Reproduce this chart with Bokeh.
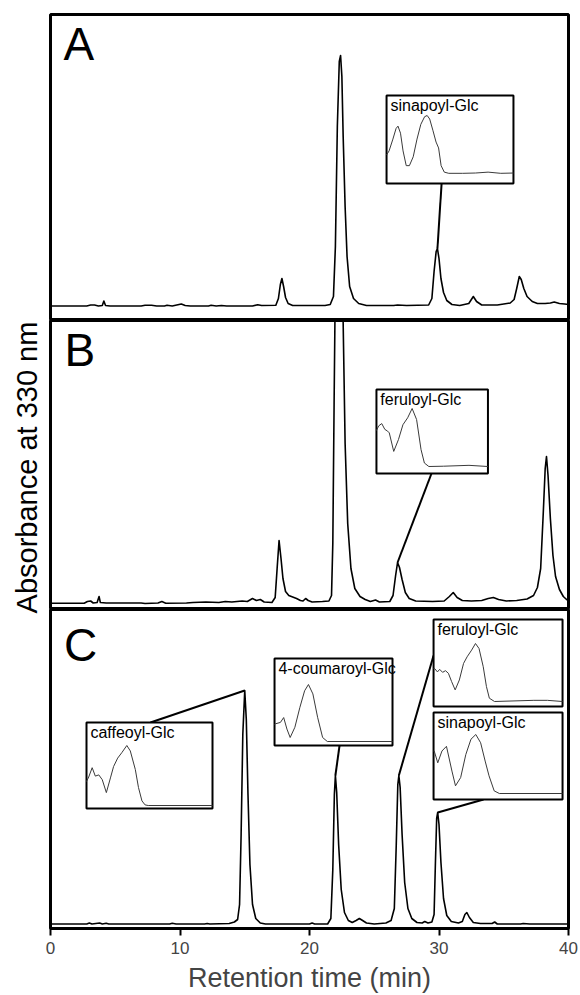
import math
from bokeh.plotting import figure
from bokeh.layouts import column, row
from bokeh.models import Range1d, FixedTicker
from bokeh.core.properties import value
from bokeh.embed import file_html
from bokeh.resources import INLINE

FONT = "Liberation Sans"

# ---------------- chromatogram data (retention time min, absorbance a.u.) -------------
A_time = [0.0, 2.8, 3.1, 3.4, 3.7, 4.0, 4.12, 4.25, 4.6, 7.0, 7.3, 7.8, 8.2, 8.8, 9.0, 9.4,
          10.1, 10.4, 10.8, 12.2, 12.4, 12.8, 13.2, 13.6, 15.6, 16.0, 16.3, 17.4, 17.6, 17.75,
          17.87, 18.0, 18.15, 18.35, 18.7, 21.2, 21.6, 21.85, 22.0, 22.15, 22.3, 22.4, 22.5,
          22.6, 22.75, 22.9, 23.1, 23.4, 23.8, 24.4, 26.5, 26.8, 27.5, 29.2, 29.45, 29.62,
          29.78, 29.88, 30.0, 30.15, 30.35, 30.6, 31.0, 31.6, 32.3, 32.65, 32.9, 33.3, 34.5,
          35.0, 35.5, 35.8, 36.0, 36.2, 36.35, 36.55, 36.8, 37.2, 37.6, 38.2, 38.6, 38.9,
          39.3, 39.7, 40.0]
A_abs = [0.5, 0.5, 1.5, 1.5, 0.5, 1.0, 5.5, 1.0, 0.5, 0.5, 1.2, 1.2, 0.5, 0.5, 1.2, 0.5,
         2.5, 1.0, 0.5, 0.5, 1.2, 0.5, 1.0, 0.5, 0.5, 1.8, 1.0, 1.2, 8, 22,
         28, 20, 9, 3, 1, 1, 2, 10, 60, 180, 245, 251, 230,
         170, 100, 50, 20, 8, 3, 1, 1, 1.5, 1, 1.5, 8, 35,
         55, 58, 48, 28, 14, 6, 2, 1, 3, 10, 5, 1.5, 1.5,
         2.5, 3.5, 7, 18, 30, 27, 18, 10, 5, 3, 3, 3.5, 4.5,
         3, 2.5, 2]

B_time = [0.0, 2.6, 2.85, 3.1, 3.3, 3.6, 3.75, 3.85, 4.3, 7.0, 7.3, 8.3, 8.6, 8.9, 10.5, 11.0,
          12.0, 13.0, 13.5, 14.0, 14.8, 15.2, 15.6, 15.9, 16.2, 16.5, 17.1, 17.35, 17.5, 17.65,
          17.8, 17.95, 18.15, 18.4, 18.7, 19.0, 19.3, 19.5, 19.7, 19.9, 20.2, 21.0, 21.5, 21.7,
          21.8, 21.9, 22.0, 22.25, 22.5, 22.6, 22.75, 22.95, 23.2, 23.5, 23.9, 24.3, 24.7,
          25.1, 25.4, 26.2, 26.45, 26.65, 26.8, 26.95, 27.15, 27.4, 27.7, 28.2, 29.5, 30.4,
          30.8, 31.1, 31.4, 31.8, 32.5, 33.3, 33.8, 34.2, 34.6, 35.2, 36.0, 36.8, 37.3, 37.6,
          37.85, 38.05, 38.2, 38.3, 38.42, 38.6, 38.8, 39.0, 39.3, 39.6, 39.85, 40.0]
B_abs = [0.3, 0.3, 2, 2.5, 0.5, 1, 7, 1, 0.5, 0.5, 0, 0.5, 2, 0.3, 0.5, 1,
         1.5, 1.0, 2, 1.5, 2.5, 2, 5, 3, 4, 1.5, 1, 6, 35, 63,
         45, 25, 12, 8, 6.5, 5, 3, 2.5, 5, 3, 1.5, 2, 2.5, 8,
         60, 200, 330, 470, 380, 280, 160, 80, 35, 15, 7, 4, 2,
         3.5, 1.5, 2, 8, 28, 41, 36, 24, 11, 5, 2.5, 2, 2.5,
         7, 11, 6, 3, 2.5, 3, 5, 6, 4, 2.5, 3, 4.5, 8, 16,
         35, 90, 135, 147, 128, 85, 48, 27, 14, 7, 4, 3]

C_time = [0.0, 2.8, 3.0, 3.2, 3.8, 4.0, 4.3, 4.5, 9.2, 9.4, 9.7, 11.9, 12.1, 12.3, 13.8, 14.2,
          14.45, 14.6, 14.72, 14.85, 15.0, 15.12, 15.25, 15.4, 15.6, 15.85, 16.2, 16.6, 20.0,
          20.2, 20.4, 21.4, 21.65, 21.8, 21.92, 22.0, 22.1, 22.25, 22.45, 22.7, 23.0, 23.3,
          23.6, 23.85, 24.1, 24.4, 25.0, 25.9, 26.3, 26.55, 26.7, 26.82, 26.9, 27.0, 27.15,
          27.35, 27.6, 27.9, 28.3, 28.7, 28.9, 29.15, 29.45, 29.62, 29.72, 29.82, 29.9, 30.0,
          30.15, 30.35, 30.6, 30.95, 31.5, 31.8, 32.0, 32.15, 32.35, 32.65, 33.2, 34.1, 34.3,
          34.5, 36.3, 36.5, 37.0, 40.0]
C_abs = [0.5, 0.5, 1.5, 0.5, 1.5, 0.5, 1.2, 0.5, 0.5, 1.2, 0.5, 0.5, 1.0, 0.5, 1.0, 2.5,
         5, 20, 90, 190, 234, 205, 130, 60, 20, 6, 1.5, 0.5, 0.5,
         1.5, 0.5, 0.5, 6, 55, 130, 149, 132, 80, 35, 12, 4, 2,
         4, 6, 4, 1.5, 0.5, 1.5, 4, 16, 80, 140, 149, 137, 90,
         42, 16, 6, 2, 1.5, 3, 1.5, 2.5, 10, 60, 106, 112, 100,
         62, 26, 9, 3, 1.5, 3, 10, 12, 7, 2, 1, 1, 2.5,
         0.5, 0.5, 1.0, 0.5, 0.5]

# ---------------- UV spectra of the insets (wavelength nm, relative absorbance) ------
sinA_nm = [200, 208, 220, 230, 236, 244, 252, 262, 272, 284, 296, 308, 320, 328, 336, 346,
           356, 364, 372, 382, 396, 440, 480, 520, 560, 600]
sinA_abs = [0.33, 0.4, 0.6, 0.78, 0.82, 0.7, 0.4, 0.15, 0.15, 0.3, 0.6, 0.85, 0.98, 1.0, 0.94,
            0.75, 0.55, 0.45, 0.15, 0.04, 0.02, 0.02, 0.025, 0.04, 0.02, 0.025]

ferB_nm = [200, 208, 219, 230, 240, 246, 262, 279, 295, 312, 328, 344, 360, 372, 388, 440, 532, 600]
ferB_abs = [0.62, 0.70, 0.74, 0.64, 0.61, 0.58, 0.26, 0.465, 0.72, 0.84, 1.0, 0.81, 0.29, 0.06,
            0.0, 0.005, 0.02, 0.0]

caf_nm = [200, 207, 218, 228, 239, 250, 263, 276, 286, 299, 312, 328, 339, 355, 365, 376, 386,
          396, 600]
caf_abs = [0.4, 0.475, 0.63, 0.49, 0.51, 0.43, 0.215, 0.46, 0.65, 0.79, 0.88, 1.0, 0.91, 0.6,
           0.3, 0.077, 0.01, 0.0, 0.0]

cou_nm = [200, 203, 220, 231, 242, 253, 269, 286, 302, 315, 330, 346, 363, 379, 600]
cou_abs = [0.3, 0.31, 0.335, 0.42, 0.218, 0.07, 0.25, 0.6, 0.89, 1.0, 0.835, 0.425, 0.07, 0.0, 0.0]

ferC_nm = [200, 203, 212, 219, 228, 237, 246, 256, 267, 280, 293, 304, 318, 330, 341, 354,
           364, 373, 389, 511, 553, 600]
ferC_abs = [0.57, 0.57, 0.51, 0.554, 0.503, 0.531, 0.486, 0.343, 0.2, 0.371, 0.657, 0.77, 0.886,
            1.0, 0.914, 0.6, 0.257, 0.057, 0.0, 0.02, 0.02, 0.0]

sinC_nm = [200, 202, 213, 226, 240, 257, 268, 284, 300, 316, 331, 346, 360, 372, 388, 404, 600]
sinC_abs = [0.72, 0.72, 0.52, 0.72, 0.80, 0.38, 0.13, 0.27, 0.66, 0.92, 1.0, 0.86, 0.55, 0.30,
            0.045, 0.0, 0.0]

panel_letters = ["A", "B", "C"]
x_ticks = [0, 10, 20, 30, 40]

FW = 518
PAD_L = 6    # canvas room left of each panel frame (keeps the "0" tick label whole)
PAD_R = 10


def base_fig(frame_h, y0, y1, top=0, bottom=0):
    p = figure(x_range=Range1d(0, 40), y_range=Range1d(y0, y1),
               frame_width=FW, frame_height=frame_h,
               output_backend="svg", toolbar_location=None,
               min_border_left=PAD_L, min_border_right=PAD_R,
               min_border_top=top, min_border_bottom=bottom)
    p.grid.visible = False
    p.yaxis.visible = False
    p.outline_line_color = "black"
    p.outline_line_width = 3
    p.background_fill_color = "white"
    p.border_fill_color = "white"
    return p


def peak_top(ts, vs, t0):
    best = None
    for t, v in zip(ts, vs):
        if abs(t - t0) < 0.5 and (best is None or v > best[1]):
            best = (t, v)
    return best


def inset(p, l, r, b, t, nm, ab, pad, amp, name, link_from, link_to):
    p.line([link_from[0], link_to[0]], [link_from[1], link_to[1]], line_color="black", line_width=2)
    p.quad(left=[l], right=[r], bottom=[b], top=[t], fill_color="white",
           line_color="black", line_width=2)
    xs = [l + (w - 200) / 400 * (r - l) for w in nm]
    ys = [b + pad + amp * a for a in ab]
    p.line(xs, ys, line_color="#3a3a3a", line_width=1)
    p.text(x=[l + 0.3], y=[t - 10], text=[name], text_font=value(FONT),
           text_font_size="16px", text_baseline="alphabetic", text_color="black")


def trace(p, ts, vs):
    p.line(ts, vs, line_color="black", line_width=1.6, line_join="round")


def letter(p, x, y, s):
    p.text(x=[x], y=[y], text=[s], text_font=value(FONT), text_font_size="46px",
           text_baseline="alphabetic", text_align="left", text_color="black")


# ---------------- panel A ----------------
pA = base_fig(306, -14, 292, top=14, bottom=0)
pA.xaxis.visible = False
trace(pA, A_time, A_abs)
inset(pA, 25.95, 35.75, 123, 211, sinA_nm, sinA_abs, 9, 59, "sinapoyl-Glc",
      (30.2, 123), peak_top(A_time, A_abs, 29.9))
letter(pA, 1.0, 263, panel_letters[0])

# ---------------- panel B ----------------
pB = base_fig(289, -6, 283, top=0, bottom=0)
pB.xaxis.visible = False
trace(pB, B_time, B_abs)
inset(pB, 25.17, 33.78, 130, 214, ferB_nm, ferB_abs, 7, 58, "feruloyl-Glc",
      (29.42, 130), peak_top(B_time, B_abs, 26.8))
letter(pB, 1.08, 254, panel_letters[1])

# ---------------- panel C ----------------
pC = base_fig(319, -4, 315, top=0, bottom=0)
trace(pC, C_time, C_abs)
inset(pC, 2.78, 12.51, 116, 202, caf_nm, caf_abs, 3, 60, "caffeoyl-Glc",
      (7.72, 202), peak_top(C_time, C_abs, 15.0))
inset(pC, 17.3, 26.41, 179, 266, cou_nm, cou_abs, 4, 57, "4-coumaroyl-Glc",
      (22.32, 179), peak_top(C_time, C_abs, 22.0))
inset(pC, 29.58, 39.54, 218, 305, ferC_nm, ferC_abs, 5, 58, "feruloyl-Glc",
      (29.58, 269), peak_top(C_time, C_abs, 26.9))
inset(pC, 29.58, 39.54, 125, 212, sinC_nm, sinC_abs, 6, 59, "sinapoyl-Glc",
      (33.44, 125), peak_top(C_time, C_abs, 29.9))
letter(pC, 1.04, 280, panel_letters[2])

ax = pC.xaxis[0]
ax.ticker = FixedTicker(ticks=x_ticks)
ax.minor_tick_line_color = None
ax.major_tick_in = 0
ax.major_tick_out = 7
ax.major_tick_line_width = 2
ax.axis_line_width = 2
ax.major_label_text_font = FONT
ax.major_label_text_font_size = "17px"
ax.major_label_standoff = 6
ax.axis_label = "Retention time (min)"
ax.axis_label_text_font = FONT
ax.axis_label_text_font_size = "27px"
ax.axis_label_text_font_style = "normal"
ax.axis_label_standoff = 6

# ---------------- y-axis title strip ----------------
LH = 928
LW = 50 - PAD_L
lab = figure(x_range=Range1d(0, LW), y_range=Range1d(0, LH), frame_width=LW, frame_height=LH,
             output_backend="svg", toolbar_location=None,
             min_border_left=0, min_border_right=0, min_border_top=0, min_border_bottom=0)
lab.axis.visible = False
lab.grid.visible = False
lab.outline_line_color = None
lab.text(x=[26], y=[LH - 467], text=["Absorbance at 330 nm"], angle=math.pi / 2,
         text_font=value(FONT), text_font_size="29px", text_align="center",
         text_baseline="middle", text_color="black")

layout = row(lab, column(pA, pB, pC, spacing=0), spacing=0)
open("out.html", "w").write(file_html(layout, INLINE))
